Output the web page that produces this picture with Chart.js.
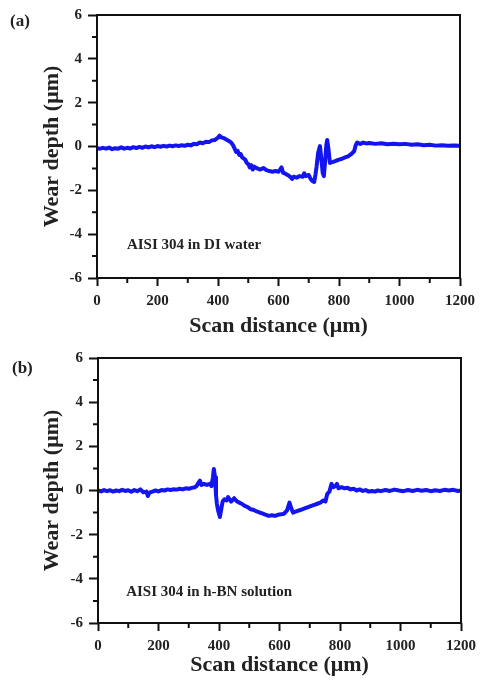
<!DOCTYPE html>
<html>
<head>
<meta charset="utf-8">
<script src="https://cdn.jsdelivr.net/npm/chart.js@4.4.1/dist/chart.umd.min.js"></script>
<style>
  html, body { margin: 0; padding: 0; background: #fff; }
  .panel { position: absolute; left: 0; width: 484px; height: 343px; }
</style>
</head>
<body>
<div class="panel" style="top:0"><canvas id="chart-a" width="484" height="343"></canvas></div>
<div class="panel" style="top:343px"><canvas id="chart-b" width="484" height="343"></canvas></div>
<script>
// Perfil (a) - AISI 304 em água DI
const distA = [0, 10, 20, 30, 40, 50, 60, 70, 80, 90, 100, 110, 120, 130, 140, 150, 160, 170, 180, 190,
  200, 210, 220, 230, 240, 250, 260, 270, 280, 290, 300, 310, 320, 330, 340, 350, 360, 370, 380, 390,
  400, 405, 410, 420, 430, 440, 445, 450, 455, 460, 465, 470, 475, 480, 490, 495, 500, 505, 510, 515,
  520, 530, 540, 550, 560, 570, 580, 590, 600, 605, 610, 615, 620, 630, 640, 645, 650, 660, 670, 680,
  685, 690, 700, 705, 710, 718, 722, 726, 731, 737, 742, 746, 750, 754, 758, 761, 765, 770, 775, 781,
  790, 800, 810, 820, 830, 840, 850, 855, 860, 870, 880, 890, 900, 920, 940, 960, 980, 1000, 1020, 1040,
  1060, 1080, 1100, 1120, 1140, 1160, 1180, 1200]
const depthA = [-0.08, -0.1, -0.06, -0.1, -0.05, -0.12, -0.08, -0.1, -0.04, -0.1, -0.06, -0.09, -0.03, -0.07, -0.02, -0.06, 0.0, -0.04, 0.01, -0.03,
  0.02, -0.01, 0.03, 0.0, 0.04, 0.01, 0.05, 0.02, 0.06, 0.03, 0.08, 0.05, 0.12, 0.1, 0.18, 0.15, 0.22, 0.2, 0.28, 0.3,
  0.4, 0.5, 0.42, 0.38, 0.3, 0.22, 0.15, 0.05, -0.1, -0.25, -0.2, -0.38, -0.35, -0.5, -0.6, -0.75, -0.8, -0.95, -0.85, -1.05,
  -0.92, -1.0, -1.05, -0.98, -1.08, -1.12, -1.15, -1.12, -1.15, -1.05, -0.95, -1.2, -1.22, -1.3, -1.4, -1.48, -1.38, -1.42, -1.35, -1.38,
  -1.22, -1.35, -1.3, -1.45, -1.55, -1.62, -1.3, -0.9, -0.3, 0.02, -0.6, -1.2, -1.35, -0.7, 0.05, 0.3, -0.1, -0.75, -0.72, -0.7,
  -0.65, -0.6, -0.56, -0.5, -0.45, -0.35, -0.22, 0.05, 0.18, 0.12, 0.18, 0.14, 0.16, 0.12, 0.15, 0.1, 0.13, 0.1, 0.12, 0.08,
  0.1, 0.06, 0.08, 0.04, 0.06, 0.03, 0.05, 0.03]

// Perfil (b) - AISI 304 em solução h-BN
const distB = [0, 10, 20, 30, 40, 50, 60, 70, 80, 90, 100, 110, 120, 130, 140, 150, 160, 165, 170, 180,
  190, 200, 210, 220, 230, 240, 250, 260, 270, 280, 290, 300, 310, 320, 326, 332, 337, 342, 350, 360,
  370, 375, 380, 383, 387, 390, 393, 397, 403, 408, 412, 418, 425, 430, 440, 450, 460, 467, 475, 485,
  495, 505, 515, 525, 535, 545, 555, 565, 575, 585, 595, 605, 615, 625, 633, 640, 645, 655, 665, 675,
  685, 695, 705, 715, 725, 735, 745, 752, 758, 765, 772, 778, 785, 790, 795, 805, 815, 825, 835, 845,
  855, 865, 875, 885, 895, 905, 915, 925, 935, 950, 965, 980, 995, 1010, 1025, 1040, 1055, 1070, 1085, 1100,
  1115, 1130, 1145, 1160, 1175, 1190, 1200]
const depthB = [0.0, -0.04, 0.02, -0.03, 0.01, -0.05, 0.0, -0.03, 0.03, -0.02, 0.01, -0.06, 0.02, -0.03, 0.05, -0.08, -0.05, -0.25, -0.1, -0.05,
  0.0, -0.04, 0.02, 0.0, 0.05, 0.02, 0.06, 0.04, 0.08, 0.05, 0.1, 0.08, 0.12, 0.15, 0.2, 0.35, 0.45, 0.25, 0.3, 0.25,
  0.3, 0.2, 0.6, 0.97, 0.6, -0.2, -0.6, -0.9, -1.2, -0.8, -0.5, -0.4, -0.45, -0.3, -0.5, -0.35, -0.5, -0.55, -0.6, -0.7,
  -0.75, -0.85, -0.88, -0.95, -1.0, -1.05, -1.1, -1.15, -1.12, -1.15, -1.1, -1.08, -1.05, -0.9, -0.55, -0.85, -1.0, -0.95, -0.9, -0.85,
  -0.8, -0.75, -0.7, -0.65, -0.6, -0.55, -0.45, -0.5, -0.15, -0.05, 0.3, 0.15, 0.2, 0.3, 0.1, 0.15, 0.1, 0.12, 0.05, 0.08,
  0.0, 0.05, -0.02, 0.02, -0.05, -0.02, -0.05, 0.0, -0.03, 0.02, -0.02, 0.04, 0.0, -0.03, 0.02, -0.02, 0.03, -0.01, 0.02, -0.03,
  0.01, -0.02, 0.03, 0.0, 0.03, -0.02, 0.0]

// Eixos
const xTickValues = [0, 200, 400, 600, 800, 1000, 1200]
const xMinorValues = [100, 300, 500, 700, 900, 1100]
const yTickValues = [-6, -4, -2, 0, 2, 4, 6]
const yMinorValues = [-5, -3, -1, 1, 3, 5]

const FONT = "'Liberation Serif', 'Times New Roman', serif"

/**
 * Moldura, ticks menores, anotação e rótulo do painel
 */
const framePlugin = {
  id: "frame",
  afterDraw(chart, args, opts) {
    const { ctx, chartArea: a, scales } = chart
    ctx.save()
    ctx.strokeStyle = "#111"
    ctx.lineWidth = 2
    ctx.strokeRect(a.left, a.top, a.right - a.left, a.bottom - a.top)

    ctx.beginPath()
    xMinorValues.forEach((v) => {
      const px = scales.x.getPixelForValue(v)
      ctx.moveTo(px, a.bottom)
      ctx.lineTo(px, a.bottom + 5)
    })
    yMinorValues.forEach((v) => {
      const py = scales.y.getPixelForValue(v)
      ctx.moveTo(a.left, py)
      ctx.lineTo(a.left - 5, py)
    })
    ctx.stroke()

    ctx.fillStyle = "#222"
    ctx.textBaseline = "middle"
    ctx.textAlign = "left"
    ctx.font = "bold 15px " + FONT
    ctx.fillText(opts.note, scales.x.getPixelForValue(opts.noteX), scales.y.getPixelForValue(opts.noteY))
    ctx.font = "bold 17px " + FONT
    ctx.fillText(opts.label, opts.labelX, opts.labelY)
    ctx.restore()
  },
}

function makeChart(id, dist, depth, p) {
  const ctx = document.getElementById(id).getContext("2d")
  return new Chart(ctx, {
    type: "line",
    data: {
      datasets: [
        {
          data: dist.map((x, i) => ({ x, y: depth[i] })),
          borderColor: "#1414f0",
          borderWidth: 4,
          borderJoinStyle: "round",
          pointRadius: 0,
          tension: 0,
          fill: false,
        },
      ],
    },
    options: {
      responsive: false,
      animation: false,
      devicePixelRatio: 1,
      layout: { padding: { top: p.top, right: p.right, left: 35, bottom: 0 } },
      plugins: {
        legend: { display: false },
        tooltip: { enabled: false },
        frame: p.frame,
      },
      scales: {
        x: {
          type: "linear",
          min: 0,
          max: 1200,
          afterBuildTicks: (scale) => { scale.ticks = xTickValues.map((v) => ({ value: v })) },
          afterFit: (scale) => { scale.height = p.xHeight },
          border: { display: false },
          grid: { drawOnChartArea: false, drawTicks: true, tickLength: 8, tickWidth: 2, tickColor: "#111" },
          ticks: {
            autoSkip: false,
            maxRotation: 0,
            padding: 6,
            color: "#222",
            callback: (value) => String(value),
            font: { family: FONT, size: 15, weight: "bold" },
          },
          title: {
            display: true,
            text: "Scan distance (μm)",
            color: "#222",
            padding: { top: 0, bottom: p.titlePad },
            font: { family: FONT, size: 22, weight: "bold" },
          },
        },
        y: {
          min: -6,
          max: 6,
          afterBuildTicks: (scale) => { scale.ticks = yTickValues.map((v) => ({ value: v })) },
          afterFit: (scale) => { scale.width = p.yWidth },
          border: { display: false },
          grid: { drawOnChartArea: false, drawTicks: true, tickLength: 9, tickWidth: 2, tickColor: "#111" },
          ticks: {
            padding: 6,
            color: "#222",
            callback: (value) => String(value),
            font: { family: FONT, size: 15, weight: "bold" },
          },
          title: {
            display: true,
            text: "Wear depth (μm)",
            color: "#222",
            padding: { top: 4, bottom: 0 },
            font: { family: FONT, size: 22, weight: "bold" },
          },
        },
      },
    },
    plugins: [framePlugin],
  })
}

makeChart("chart-a", distA, depthA, {
  top: 11, right: 24, xHeight: 65, yWidth: 62, titlePad: 3,
  frame: { note: "AISI 304 in DI water", noteX: 99, noteY: -4.5, label: "(a)", labelX: 10, labelY: 22 },
})
makeChart("chart-b", distB, depthB, {
  top: 14, right: 23, xHeight: 63, yWidth: 63, titlePad: 7,
  frame: { note: "AISI 304 in h-BN solution", noteX: 93, noteY: -4.6, label: "(b)", labelX: 12, labelY: 26 },
})
</script>
</body>
</html>
